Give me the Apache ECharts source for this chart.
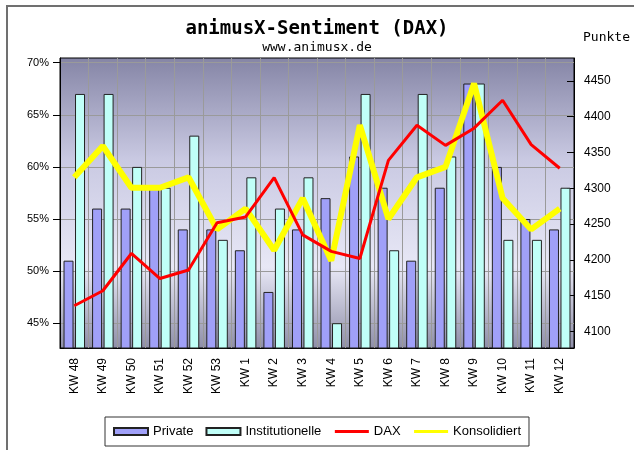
<!DOCTYPE html>
<html>
<head>
<meta charset="utf-8">
<script src="https://cdn.jsdelivr.net/npm/echarts@6/dist/echarts.min.js"></script>
<style>
  html,body{margin:0;padding:0;background:#fff}
  #chart{width:634px;height:450px}
</style>
</head>
<body>
<div id="chart"></div>
<script>
const weeks = ['KW 48','KW 49','KW 50','KW 51','KW 52','KW 53','KW 1','KW 2','KW 3','KW 4','KW 5','KW 6','KW 7','KW 8','KW 9','KW 10','KW 11','KW 12']
const privat = [51,56,56,58,54,54,52,48,54,57,61,58,51,58,68,60,55,54]
const instit = [67,67,60,58,63,53,59,56,59,45,67,52,67,61,68,53,53,58]
const dax = [4136,4157,4209,4174,4186,4252,4260,4315,4235,4212,4202,4339,4388,4360,4384,4423,4361,4328]
const konsol = [59,62,58,58,59,54,56,52,57,51,64,55,59,60,68,57,54,56]
const pctTicks = [45,50,55,60,65,70]
const ptsTicks = [4100,4150,4200,4250,4300,4350,4400,4450]

const chart = echarts.init(document.getElementById('chart'))
const sans = 'Liberation Sans, Arial, sans-serif'
const mono = 'DejaVu Sans Mono, monospace'

const opt = {
  animation:false,
  title:[
    {text:'animusX-Sentiment (DAX)', left:'center', top:15, textStyle:{fontFamily:mono, fontSize:19, fontWeight:'bold', color:'#000'}},
    {text:'www.animusx.de', left:'center', top:36, textStyle:{fontFamily:mono, fontSize:13, fontWeight:'normal', color:'#000'}},
    {text:'Punkte', left:578, top:26, textStyle:{fontFamily:mono, fontSize:13, fontWeight:'normal', color:'#000'}}
  ],
  graphic:[{type:'rect', shape:{x:7, y:6, width:700, height:520}, style:{fill:'none', stroke:'#707070', lineWidth:2}, silent:true}],
  legend:{
    left:'center', top:417, padding:[8,8], itemGap:12, itemWidth:34, itemHeight:7,
    borderColor:'#333', borderWidth:1,
    lineStyle:{width:3},
    textStyle:{fontFamily:sans, fontSize:13, color:'#000'},
    data:[
      {name:'Private', icon:'rect'},
      {name:'Institutionelle', icon:'rect'},
      {name:'DAX', itemStyle:{opacity:0}},
      {name:'Konsolidiert', itemStyle:{opacity:0}}]
  },
  grid:{
    left:60, right:60, top:58, bottom:102, show:true, borderColor:'#000', borderWidth:1,
    backgroundColor:{type:'linear', x:0, y:0, x2:0, y2:1, colorStops:[
      {offset:0, color:'#8585a6'},{offset:0.35, color:'#c9c9e2'},{offset:0.72, color:'#e8e8f6'},{offset:1, color:'#8e8ea8'}]}
  },
  xAxis:{
    type:'category', data:weeks,
    axisLine:{lineStyle:{color:'#000'}},
    axisTick:{length:7, lineStyle:{color:'#000'}},
    splitLine:{show:true, lineStyle:{color:'#9a9a9a'}},
    axisLabel:{rotate:90, fontFamily:sans, fontSize:12, color:'#000', margin:10}
  },
  yAxis:[
    {type:'value', min:42.62, max:70.45,
     axisLine:{show:true, lineStyle:{color:'#000'}},
     axisTick:{show:true, length:7, customValues:pctTicks, lineStyle:{color:'#000'}},
     axisLabel:{customValues:pctTicks, formatter:v=>v+'%', fontFamily:sans, fontSize:11, color:'#000', margin:11},
     splitLine:{show:true, lineStyle:{color:'#9a9a9a'}}},
    {type:'value', min:4077, max:4482,
     axisLine:{show:true, lineStyle:{color:'#000'}},
     axisTick:{show:true, inside:true, length:7, customValues:ptsTicks, lineStyle:{color:'#000'}},
     axisLabel:{customValues:ptsTicks, formatter:v=>String(v), fontFamily:sans, fontSize:12, color:'#000', margin:10},
     splitLine:{show:false}}
  ],
  series:[
    {name:'Private', type:'bar', data:privat, barWidth:10, barGap:'15%', itemStyle:{color:'#a0a0f8', borderColor:'#222', borderWidth:1}},
    {name:'Institutionelle', type:'bar', data:instit, barWidth:10, itemStyle:{color:'#c0fff8', borderColor:'#222', borderWidth:1}},
    {name:'Konsolidiert', type:'line', data:konsol, symbol:'none', z:3, lineStyle:{color:'#ffff00', width:6}, itemStyle:{color:'#ffff00'}},
    {name:'DAX', type:'line', yAxisIndex:1, data:dax, symbol:'none', z:4, lineStyle:{color:'#ff0000', width:3}, itemStyle:{color:'#ff0000'}}
  ]
}
chart.setOption(opt)
</script>
</body>
</html>
